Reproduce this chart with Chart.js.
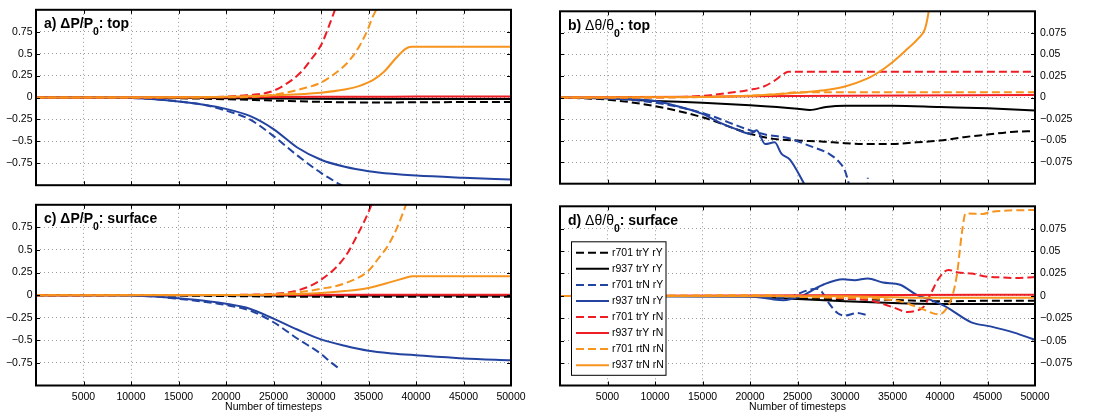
<!DOCTYPE html>
<html>
<head>
<meta charset="utf-8">
<title>Number of timesteps</title>
<script src="https://cdn.jsdelivr.net/npm/chart.js@4/dist/chart.umd.min.js"></script>
<style>
    html, body { margin: 0; padding: 0; background: #fff; }
    #wrap { position: relative; width: 1100px; height: 416px; overflow: hidden; }
    #wrap canvas { position: absolute; }
</style>
</head>
<body>
<div id="wrap">
    <canvas id="chartA" width="550" height="195" style="left:0;top:0"></canvas>
    <canvas id="chartB" width="550" height="195" style="left:550px;top:0"></canvas>
    <canvas id="chartC" width="550" height="221" style="left:0;top:195px"></canvas>
    <canvas id="chartD" width="550" height="221" style="left:550px;top:195px"></canvas>
</div>
<script>
// ====================== DATA ======================

const LABELS = ["r701 trY rY", "r937 trY rY", "r701 trN rY", "r937 trN rY",
                "r701 trY rN", "r937 trY rN", "r701 rtN rN", "r937 trN rN"];

const X_TICKS = [5000, 10000, 15000, 20000, 25000, 30000, 35000, 40000, 45000, 50000];
const X_TITLE = "Number of timesteps";

const P_TICKS = [-0.75, -0.5, -0.25, 0, 0.25, 0.5, 0.75];
const T_TICKS = [-0.075, -0.05, -0.025, 0, 0.025, 0.05, 0.075];

// a) dP/P0, top
const A_R701_TRY_RY = [[0, 0], [8000, 0], [12000, -0.004], [16000, -0.01], [20000, -0.02], [25000, -0.035], [30000, -0.05], [35000, -0.056], [40000, -0.055], [45000, -0.052], [50000, -0.05]];
const A_R937_TRY_RY = [[0, 0], [15000, -0.003], [20000, -0.008], [25000, -0.012], [30000, -0.015], [40000, -0.016], [50000, -0.016]];
const A_R701_TRN_RY = [[0, 0], [8000, 0], [10000, -0.005], [12500, -0.02], [15000, -0.045], [17500, -0.08], [20000, -0.15], [22500, -0.25], [25000, -0.44], [27500, -0.66], [30000, -0.86], [31500, -0.96], [32500, -1.02]];
const A_R937_TRN_RY = [[0, 0], [8000, 0], [10000, -0.005], [12500, -0.02], [15000, -0.045], [17500, -0.08], [20000, -0.13], [22500, -0.21], [25000, -0.36], [27500, -0.57], [30000, -0.71], [32500, -0.79], [35000, -0.84], [37500, -0.87], [40000, -0.89], [45000, -0.915], [50000, -0.935]];
const A_R701_TRY_RN = [[0, 0], [15000, 0.002], [20000, 0.01], [22500, 0.03], [24700, 0.065], [26200, 0.145], [27900, 0.29], [29070, 0.45], [30070, 0.61], [30730, 0.785], [31400, 0.98], [31800, 1.1]];
const A_R937_TRY_RN = [[0, 0], [20000, 0.003], [30000, 0.008], [40000, 0.01], [50000, 0.012]];
const A_R701_RTN_RN = [[0, 0], [15000, 0.001], [22500, 0.005], [24000, 0.018], [26200, 0.053], [28000, 0.1], [29900, 0.165], [31900, 0.31], [32900, 0.41], [34070, 0.59], [34900, 0.77], [35400, 0.91], [35900, 1.02], [36200, 1.1]];
const A_R937_TRN_RN = [[0, 0], [15000, 0.002], [20000, 0.008], [25000, 0.025], [30000, 0.055], [32500, 0.09], [34000, 0.13], [35500, 0.2], [36600, 0.29], [37900, 0.45], [38900, 0.555], [39500, 0.58], [50000, 0.58]];

// b) dTheta/Theta0, top
const B_R701_TRY_RY = [[0, 0], [5000, -0.0025], [10000, -0.01], [15000, -0.023], [20000, -0.042], [22500, -0.048], [25000, -0.05], [27500, -0.051], [30000, -0.053], [32500, -0.054], [35000, -0.054], [37500, -0.052], [40000, -0.05], [42500, -0.046], [45000, -0.043], [47500, -0.04], [50000, -0.039]];
const B_R937_TRY_RY = [[0, 0], [5000, -0.001], [10000, -0.004], [15000, -0.006], [20000, -0.009], [25000, -0.013], [26300, -0.0145], [28000, -0.011], [30000, -0.0095], [35000, -0.0095], [40000, -0.011], [45000, -0.0125], [50000, -0.015]];
const B_R701_TRN_RY = [[0, 0], [5000, -0.001], [10000, -0.006], [15000, -0.018], [20000, -0.038], [21600, -0.043], [24000, -0.047], [26000, -0.055], [28400, -0.066], [29400, -0.075], [30000, -0.085], [30400, -0.1], [31000, -0.13], [32300, -0.13], [32400, -0.093]];
const B_R937_TRN_RY = [[0, 0], [5000, -0.001], [10000, -0.004], [12000, -0.009], [15000, -0.019], [17000, -0.03], [18600, -0.037], [20000, -0.042], [20700, -0.038], [21600, -0.054], [22600, -0.052], [23300, -0.065], [24200, -0.072], [25700, -0.1], [26000, -0.106]];
const B_R701_TRY_RN = [[0, 0], [10000, 0], [15000, 0.002], [17500, 0.005], [20000, 0.009], [21500, 0.013], [22500, 0.019], [23500, 0.027], [24000, 0.03], [50000, 0.03]];
const B_R937_TRY_RN = [[0, 0], [15000, 0.001], [30000, 0.002], [50000, 0.003]];
const B_R701_RTN_RN = [[0, 0], [15000, 0.0005], [20000, 0.002], [23000, 0.004], [25000, 0.006], [50000, 0.006]];
const B_R937_TRN_RN = [[0, 0], [15000, 0.0005], [20000, 0.002], [25000, 0.0054], [27500, 0.008], [30000, 0.0128], [32330, 0.0218], [33500, 0.029], [35000, 0.041], [36330, 0.054], [37670, 0.068], [38400, 0.079], [38670, 0.091], [38850, 0.103]];

// c) dP/P0, surface
const C_R701_TRY_RY = [[0, 0], [10000, 0], [15000, -0.005], [20000, -0.01], [25000, -0.015], [30000, -0.018], [50000, -0.018]];
const C_R937_TRY_RY = [[0, 0], [20000, -0.002], [30000, -0.004], [50000, -0.005]];
const C_R701_TRN_RY = [[0, 0], [8000, 0], [10000, -0.003], [12500, -0.015], [15000, -0.04], [17500, -0.07], [20000, -0.11], [22500, -0.17], [25000, -0.3], [27500, -0.48], [30000, -0.65], [31000, -0.74], [32000, -0.82]];
const C_R937_TRN_RY = [[0, 0], [8000, 0], [10000, -0.003], [12500, -0.015], [15000, -0.035], [17500, -0.06], [20000, -0.095], [22500, -0.15], [25000, -0.26], [27500, -0.38], [30000, -0.49], [32500, -0.56], [35000, -0.615], [37500, -0.645], [40000, -0.665], [45000, -0.7], [50000, -0.72]];
const C_R701_TRY_RN = [[0, 0], [20000, 0.002], [22500, 0.005], [25000, 0.014], [27500, 0.05], [30000, 0.17], [32500, 0.42], [34000, 0.7], [35000, 0.92], [35500, 1.05]];
const C_R937_TRY_RN = [[0, 0], [20000, 0.002], [50000, 0.005]];
const C_R701_RTN_RN = [[0, 0], [22500, 0.002], [25000, 0.008], [27500, 0.03], [30000, 0.07], [32500, 0.13], [35000, 0.27], [36000, 0.4], [37000, 0.54], [37900, 0.72], [38800, 0.96], [39100, 1.05]];
const C_R937_TRN_RN = [[0, 0], [20000, 0.002], [25000, 0.007], [30000, 0.025], [32500, 0.045], [35000, 0.08], [37500, 0.15], [39000, 0.195], [39600, 0.21], [50000, 0.21]];

// d) dTheta/Theta0, surface
const D_R701_TRY_RY = [[0, 0], [20000, 0], [22500, -0.001], [25000, -0.003], [30000, -0.0035], [35000, -0.0045], [40000, -0.006], [45000, -0.0055], [50000, -0.0055]];
const D_R937_TRY_RY = [[0, 0], [20000, -0.0005], [22500, -0.002], [25000, -0.0035], [30000, -0.006], [35000, -0.008], [40000, -0.009], [50000, -0.009]];
const D_R701_TRN_RY = [[0, 0], [20000, 0], [22000, -0.002], [24000, -0.002], [25000, 0.002], [26000, 0.006], [27000, 0.008], [27600, 0.004], [28300, -0.008], [29200, -0.019], [30000, -0.022], [31300, -0.019], [32300, -0.0215]];
const D_R937_TRN_RY = [[0, 0], [20000, -0.001], [21300, -0.002], [22500, -0.004], [23500, -0.0048], [24500, -0.003], [25500, 0], [26600, 0.0065], [27800, 0.013], [29800, 0.0185], [31000, 0.0175], [32400, 0.0195], [34000, 0.015], [35800, 0.0125], [37600, 0.0008], [39000, -0.0045], [40600, -0.012], [43300, -0.0295], [45300, -0.034], [47800, -0.041], [50000, -0.049]];
const D_R701_TRY_RN = [[0, 0], [25000, 0], [30000, -0.003], [32600, -0.005], [35000, -0.0125], [36600, -0.018], [37300, -0.017], [38300, -0.012], [39100, 0.004], [39900, 0.02], [40900, 0.029], [41900, 0.026], [43300, 0.025], [44600, 0.022], [46600, 0.0205], [48000, 0.02], [50000, 0.021]];
const D_R937_TRY_RN = [[0, 0], [20000, 0.0005], [35000, 0.001], [50000, 0.0012]];
const D_R701_RTN_RN = [[0, 0], [22000, 0.0007], [25000, -0.001], [30000, -0.002], [33300, -0.003], [35900, -0.0064], [37900, -0.0136], [39900, -0.0207], [40600, -0.0154], [41300, 0], [41800, 0.025], [42300, 0.07], [42700, 0.092], [44500, 0.0915], [45500, 0.094], [50000, 0.096]];
const D_R937_TRN_RN = [[0, 0], [30000, -0.0005], [38000, -0.002], [50000, -0.002]];

// ====================== STYLE ======================

const COLORS = ["#000000", "#000000", "#2343a0", "#2343a0", "#ee1d25", "#ee1d25", "#f7941d", "#f7941d"];
const DASHED = [true, false, true, false, true, false, true, false];
const DASH = [8, 4];
const FONT = '"Liberation Sans", Arial, Helvetica, sans-serif';
const GRID_COLOR = "#9a9a9a";

// ====================== PANELS ======================

const panels = [
    {
        id: "chartA",
        series: [A_R701_TRY_RY, A_R937_TRY_RY, A_R701_TRN_RY, A_R937_TRN_RY, A_R701_TRY_RN, A_R937_TRY_RN, A_R701_RTN_RN, A_R937_TRN_RN],
        title: [["a) ", "b"], ["\u0394P/P", "b"], ["0", "sub"], [": top", "b"]],
        yMin: -1, yMax: 1, yTicks: P_TICKS, yPos: "left",
        padding: { left: 0, right: 39, top: 2.5, bottom: 0 },
        yWidth: 36, xHeight: 5.5, xLabels: false, legend: false
    },
    {
        id: "chartB",
        series: [B_R701_TRY_RY, B_R937_TRY_RY, B_R701_TRN_RY, B_R937_TRN_RY, B_R701_TRY_RN, B_R937_TRY_RN, B_R701_RTN_RN, B_R937_TRN_RN],
        title: [["b) ", "b"], ["\u0394\u03b8/\u03b8", "n"], ["0", "sub"], [": top", "b"]],
        yMin: -0.1, yMax: 0.1, yTicks: T_TICKS, yPos: "right",
        padding: { left: 10, right: 0, top: 2.5, bottom: 0 },
        yWidth: 65, xHeight: 5.5, xLabels: false, legend: false
    },
    {
        id: "chartC",
        series: [C_R701_TRY_RY, C_R937_TRY_RY, C_R701_TRN_RY, C_R937_TRN_RY, C_R701_TRY_RN, C_R937_TRY_RN, C_R701_RTN_RN, C_R937_TRN_RN],
        title: [["c) ", "b"], ["\u0394P/P", "b"], ["0", "sub"], [": surface", "b"]],
        yMin: -1, yMax: 1, yTicks: P_TICKS, yPos: "left",
        padding: { left: 0, right: 39, top: 3.5, bottom: 0 },
        yWidth: 36, xHeight: 30.5, xLabels: true, legend: false
    },
    {
        id: "chartD",
        series: [D_R701_TRY_RY, D_R937_TRY_RY, D_R701_TRN_RY, D_R937_TRN_RY, D_R701_TRY_RN, D_R937_TRY_RN, D_R701_RTN_RN, D_R937_TRN_RN],
        title: [["d) ", "b"], ["\u0394\u03b8/\u03b8", "n"], ["0", "sub"], [": surface", "b"]],
        yMin: -0.1, yMax: 0.1, yTicks: T_TICKS, yPos: "right",
        padding: { left: 10, right: 0, top: 3.5, bottom: 0 },
        yWidth: 65, xHeight: 30.5, xLabels: true, legend: true
    }
];

// ====================== DRAWING HELPERS ======================

function formatTick(v) {
    if (v === 0) return "0";
    return (v < 0 ? "\u2212" : "") + String(Math.abs(v));
}

function drawFrame(chart) {
    const { ctx, chartArea: a, scales } = chart;
    ctx.save();
    ctx.strokeStyle = "#000";

    // short inward tick marks on all four sides
    ctx.lineWidth = 1;
    ctx.beginPath();
    scales.x.ticks.forEach(t => {
        const x = Math.round(scales.x.getPixelForValue(t.value)) + 0.5;
        ctx.moveTo(x, a.bottom); ctx.lineTo(x, a.bottom - 4);
        ctx.moveTo(x, a.top); ctx.lineTo(x, a.top + 4);
    });
    scales.y.ticks.forEach(t => {
        const y = Math.round(scales.y.getPixelForValue(t.value)) + 0.5;
        ctx.moveTo(a.left, y); ctx.lineTo(a.left + 4, y);
        ctx.moveTo(a.right, y); ctx.lineTo(a.right - 4, y);
    });
    ctx.stroke();

    ctx.lineWidth = 2;
    ctx.strokeRect(a.left, a.top, a.right - a.left, a.bottom - a.top);
    ctx.restore();
}

function drawTitle(chart, parts) {
    const { ctx, chartArea: a } = chart;
    let x = a.left + 8;
    const y = a.top + 18.5;
    ctx.save();
    ctx.fillStyle = "#000";
    ctx.textBaseline = "alphabetic";
    ctx.textAlign = "left";
    parts.forEach(([text, kind]) => {
        if (kind === "sub") {
            ctx.font = "bold 10.5px " + FONT;
            ctx.fillText(text, x, y + 7);
        } else {
            ctx.font = (kind === "b" ? "bold " : "") + "14px " + FONT;
            ctx.fillText(text, x, y);
        }
        x += ctx.measureText(text).width;
    });
    ctx.restore();
}

function drawLegend(chart) {
    const { ctx, chartArea: a } = chart;
    const left = a.left + 11.5;
    const top = a.top + 35.5;
    const w = 94.5;
    const h = 133.5;

    ctx.save();
    ctx.fillStyle = "#fff";
    ctx.fillRect(left, top, w, h);
    ctx.strokeStyle = "#000";
    ctx.lineWidth = 1;
    ctx.strokeRect(left, top, w, h);

    ctx.font = "10.5px " + FONT;
    ctx.textBaseline = "middle";
    ctx.textAlign = "left";
    chart.data.datasets.forEach((ds, i) => {
        const y = top + 11 + i * 16.05;
        ctx.beginPath();
        ctx.setLineDash(ds.borderDash);
        ctx.lineWidth = 2;
        ctx.strokeStyle = ds.borderColor;
        ctx.moveTo(left + 4.5, y);
        ctx.lineTo(left + 37.5, y);
        ctx.stroke();
        ctx.setLineDash([]);
        ctx.fillStyle = "#000";
        ctx.fillText(ds.label, left + 40.5, y);
    });
    ctx.restore();
}

const panelDecor = {
    id: "panelDecor",
    afterDraw(chart, args, opts) {
        drawFrame(chart);
        drawTitle(chart, opts.title);
        if (opts.legend) drawLegend(chart);
    }
};

// ====================== CHARTS ======================

function buildDatasets(series) {
    return series.map((pts, i) => ({
        label: LABELS[i],
        data: pts.map(p => ({ x: p[0], y: p[1] })),
        borderColor: COLORS[i],
        backgroundColor: COLORS[i],
        borderWidth: 2,
        borderDash: DASHED[i] ? DASH : [],
        pointRadius: 0,
        cubicInterpolationMode: "monotone",
        fill: false,
        clip: 0,
        order: series.length - i
    }));
}

function createPanel(p) {
    const tickFont = { family: FONT, size: 10.5 };

    return new Chart(document.getElementById(p.id), {
        type: "line",
        data: { datasets: buildDatasets(p.series) },
        plugins: [panelDecor],
        options: {
            responsive: false,
            animation: false,
            events: [],
            layout: { padding: p.padding },
            plugins: {
                legend: { display: false },
                tooltip: { enabled: false },
                panelDecor: { title: p.title, legend: p.legend }
            },
            scales: {
                x: {
                    type: "linear",
                    min: 0,
                    max: 50000,
                    afterBuildTicks: s => { s.ticks = X_TICKS.map(v => ({ value: v })); },
                    afterFit: s => { s.height = p.xHeight; },
                    grid: { color: GRID_COLOR, lineWidth: 1, drawTicks: false },
                    border: { display: false, dash: [1, 3] },
                    ticks: {
                        display: p.xLabels,
                        padding: 5,
                        maxRotation: 0,
                        autoSkip: false,
                        color: "#000",
                        font: tickFont,
                        callback: v => String(v)
                    },
                    title: {
                        display: p.xLabels,
                        text: X_TITLE,
                        color: "#000",
                        font: tickFont,
                        padding: { top: 0, bottom: 2.7 }
                    }
                },
                y: {
                    type: "linear",
                    position: p.yPos,
                    min: p.yMin,
                    max: p.yMax,
                    afterBuildTicks: s => { s.ticks = p.yTicks.map(v => ({ value: v })); },
                    afterFit: s => { s.width = p.yWidth; },
                    grid: { color: GRID_COLOR, lineWidth: 1, drawTicks: false },
                    border: { display: false, dash: [1, 3] },
                    ticks: {
                        padding: p.yPos === "left" ? 3.5 : 5,
                        color: "#000",
                        font: tickFont,
                        callback: v => formatTick(v)
                    }
                }
            }
        }
    });
}

panels.forEach(createPanel);
</script>
</body>
</html>
